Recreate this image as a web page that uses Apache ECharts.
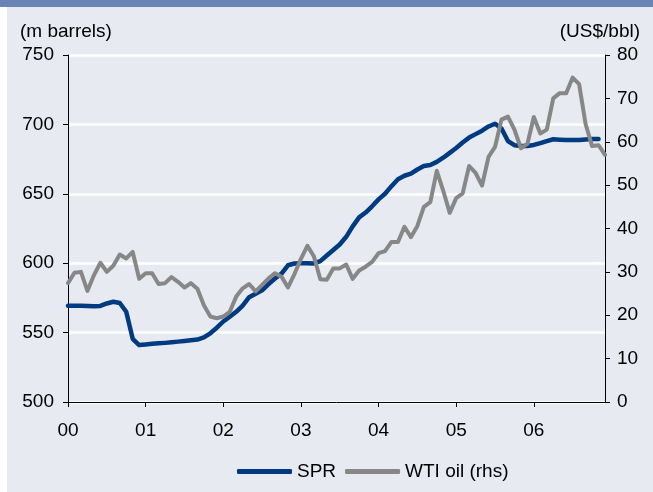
<!DOCTYPE html>
<html>
<head>
<meta charset="utf-8">
<script src="https://cdn.jsdelivr.net/npm/echarts@6/dist/echarts.min.js"></script>
<style>
html,body{margin:0;padding:0;background:#ffffff;}
#chart{width:653px;height:492px;}
</style>
</head>
<body>
<div id="chart"></div>
<script>
const years = ['00','01','02','03','04','05','06'];
const leftTicks = [500, 550, 600, 650, 700, 750];
const rightTicks = [0, 10, 20, 30, 40, 50, 60, 70, 80];
const seriesNames = ['SPR', 'WTI oil (rhs)'];
// SPR, million barrels, monthly Jan 2000 - Nov 2006
const spr = [
  569.4, 569.4, 569.3, 569.1, 569.0, 569.2, 571.0, 572.2, 571.3, 565.0, 545.5, 541.0,
  541.5, 542.0, 542.3, 542.6, 543.0, 543.5, 544.0, 544.5, 545.0, 546.5, 549.5, 553.5,
  558.0, 561.5, 565.0, 569.5, 575.5, 578.0, 580.5, 585.0, 589.0, 592.5, 598.5, 599.8,
  600.0, 600.0, 599.8, 601.5, 605.5, 609.5, 613.5, 619.0, 626.5, 633.0, 636.5, 641.0,
  646.0, 650.0, 655.5, 660.5, 663.0, 664.5, 667.5, 670.0, 670.8, 673.0, 676.0, 679.5,
  683.0, 687.0, 690.5, 693.0, 695.5, 698.5, 700.5, 697.0, 688.0, 685.0, 684.5, 684.5,
  685.2, 686.5, 688.0, 689.3, 689.0, 688.8, 688.8, 688.8, 689.2, 689.4, 689.5
];
// WTI oil, US$/bbl, monthly Jan 2000 - Dec 2006
const wti = [
  27.4, 29.8, 30.0, 25.6, 29.2, 32.1, 30.0, 31.4, 34.0, 33.1, 34.6, 28.4,
  29.7, 29.7, 27.2, 27.4, 28.8, 27.7, 26.4, 27.4, 26.1, 22.3, 19.7, 19.3,
  19.7, 20.8, 24.3, 26.2, 27.2, 25.5, 27.0, 28.5, 29.7, 28.9, 26.4, 29.5,
  33.0, 36.0, 33.6, 28.3, 28.2, 30.8, 30.8, 31.7, 28.4, 30.3, 31.2, 32.3,
  34.3, 34.8, 36.9, 36.9, 40.4, 38.0, 40.6, 45.0, 46.1, 53.3, 48.7, 43.6,
  47.0, 48.1, 54.4, 52.8, 49.9, 56.5, 58.8, 65.1, 65.8, 62.8, 58.5, 59.5,
  65.7, 61.9, 62.8, 70.0, 71.2, 71.2, 74.8, 73.3, 64.1, 59.0, 59.2, 57.0
];
const categories = [];
years.forEach(y => { for (let m = 1; m <= 12; m++) categories.push(y + '-' + (m < 10 ? '0' + m : m)); });

const FONT = '"Liberation Sans", Arial, sans-serif';
const FS = 19;
const chart = echarts.init(document.getElementById('chart'), null, {renderer: 'canvas'});
chart.setOption({
  animation: false,
  backgroundColor: '#ffffff',
  textStyle: {fontFamily: FONT},
  graphic: [
    {type: 'rect', shape: {x: 0, y: 0, width: 653, height: 7}, style: {fill: '#6a84b5'}, z: -10},
    {type: 'rect', shape: {x: 7, y: 7, width: 646, height: 485}, style: {fill: '#e7eaf0'}, z: -10},
    {type: 'text', left: 20, top: 22, style: {text: '(m barrels)', font: FS + 'px ' + FONT, fill: '#000'}},
    {type: 'text', right: 13, top: 22, style: {text: '(US$/bbl)', font: FS + 'px ' + FONT, fill: '#000', textAlign: 'right'}}
  ],
  grid: {left: 68, right: 48, top: 55, bottom: 90, containLabel: false},
  legend: {
    data: seriesNames,
    left: 232, top: 457,
    itemWidth: 55, itemHeight: 5, itemGap: 9,
    icon: 'roundRect',
    textStyle: {fontSize: FS, color: '#000', fontFamily: FONT}
  },
  xAxis: {
    type: 'category',
    data: categories,
    boundaryGap: false,
    axisLine: {lineStyle: {color: '#000', width: 1}},
    axisTick: {show: true, interval: 11, length: 5, lineStyle: {color: '#000'}},
    axisLabel: {interval: 11, margin: 19, fontSize: FS, color: '#000', fontFamily: FONT,
      formatter: v => v.slice(0, 2)},
    splitLine: {show: false}
  },
  yAxis: [
    {
      type: 'value', min: leftTicks[0], max: leftTicks[leftTicks.length - 1], interval: 50,
      axisLine: {show: true, lineStyle: {color: '#000', width: 1}},
      axisTick: {show: true, length: 5, lineStyle: {color: '#000'}},
      axisLabel: {margin: 14, fontSize: FS, color: '#000', fontFamily: FONT},
      splitLine: {show: true, lineStyle: {color: '#ffffff', width: 2.5}}
    },
    {
      type: 'value', min: rightTicks[0], max: rightTicks[rightTicks.length - 1], interval: 10,
      position: 'right',
      axisLine: {show: true, lineStyle: {color: '#000', width: 1}},
      axisTick: {show: true, length: 5, lineStyle: {color: '#000'}},
      axisLabel: {margin: 12, fontSize: FS, color: '#000', fontFamily: FONT},
      splitLine: {show: false}
    }
  ],
  series: [
    {
      name: seriesNames[0], type: 'line', yAxisIndex: 0, data: spr,
      symbol: 'none', smooth: false,
      lineStyle: {color: '#003a80', width: 4.5, cap: 'round', join: 'round'},
      itemStyle: {color: '#003a80'}
    },
    {
      name: seriesNames[1], type: 'line', yAxisIndex: 1, data: wti,
      symbol: 'none', smooth: false,
      lineStyle: {color: '#878787', width: 4, cap: 'round', join: 'round'},
      itemStyle: {color: '#878787'}
    }
  ]
});
</script>
</body>
</html>
